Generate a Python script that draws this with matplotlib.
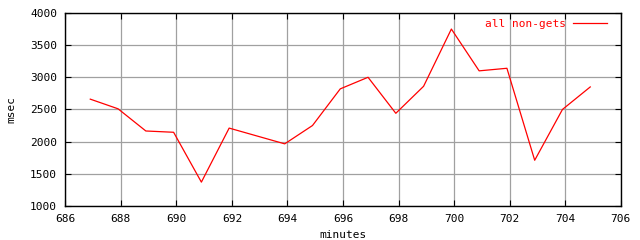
import matplotlib
matplotlib.use("Agg")
import matplotlib.pyplot as plt

# minutes vs response time (msec)
minutes = [686.9, 687.9, 688.9, 689.9, 690.9, 691.9, 693.9, 694.9, 695.9,
           696.9, 697.9, 698.9, 699.9, 700.9, 701.9, 702.9, 703.9, 704.9]
msec = [2660, 2510, 2165, 2145, 1370, 2210, 1965, 2250, 2820,
        3000, 2440, 2860, 3750, 3100, 3140, 1710, 2500, 2850]
series_label = "all non-gets"

xticks = list(range(686, 707, 2))
yticks = list(range(1000, 4001, 500))

plt.rcParams["font.family"] = "DejaVu Sans Mono"

fig = plt.figure(figsize=(6.4, 2.4), dpi=100)
ax = fig.add_axes([0.102, 0.142, 0.868, 0.804])

ax.plot(minutes, msec, color="red", linewidth=0.9, label=series_label)

ax.set_xlim(686, 706)
ax.set_ylim(1000, 4000)
ax.set_xticks(xticks)
ax.set_yticks(yticks)
ax.grid(True, color="#a0a0a0", linewidth=0.9)
ax.set_axisbelow(True)
ax.tick_params(direction="in", top=True, right=True, length=4, labelsize=8, pad=6)
for s in ax.spines.values():
    s.set_linewidth(1.0)

ax.set_xlabel("minutes", fontsize=8, labelpad=4)
ax.set_ylabel("msec", fontsize=8, labelpad=10)

leg = ax.legend(loc="upper right", bbox_to_anchor=(0.976, 0.97),
                frameon=False, markerfirst=False, fontsize=8,
                handlelength=3.1, borderaxespad=0, borderpad=0,
                labelcolor="red", handletextpad=0.6)

fig.savefig("out.png", dpi=100)
